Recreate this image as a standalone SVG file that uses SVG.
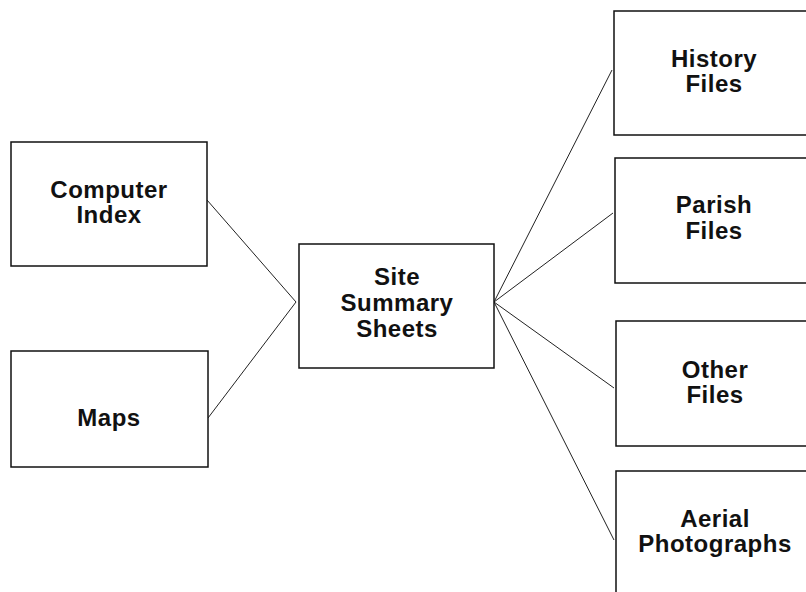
<svg xmlns="http://www.w3.org/2000/svg" width="806" height="592" viewBox="0 0 806 592">
<style>
.box{fill:#fff;stroke:#111;stroke-width:1.5}
.lbl{font-family:"Liberation Sans",Arial,sans-serif;font-weight:bold;font-size:24px;letter-spacing:0.5px;fill:#111;text-anchor:middle}
.con line{stroke:#222;stroke-width:1}
</style>
<rect width="806" height="592" fill="#fff"/>
<g class="con">
<line x1="207" y1="200" x2="296" y2="302"/>
<line x1="208" y1="418" x2="296" y2="302"/>
<line x1="494" y1="302" x2="612" y2="70"/>
<line x1="494" y1="302" x2="613" y2="213"/>
<line x1="494" y1="302" x2="614" y2="388"/>
<line x1="494" y1="302" x2="614" y2="540"/>
</g>
<g id="computer-index"><rect class="box" x="11" y="142" width="196" height="124"/><text class="lbl" x="109" y="198">Computer</text><text class="lbl" x="109" y="223">Index</text></g>
<g id="maps"><rect class="box" x="11" y="351" width="197" height="116"/><text class="lbl" x="109" y="426">Maps</text></g>
<g id="site-summary-sheets"><rect class="box" x="299" y="244" width="195" height="124"/><text class="lbl" x="397" y="285">Site</text><text class="lbl" x="397" y="311">Summary</text><text class="lbl" x="397" y="337">Sheets</text></g>
<g id="history-files"><rect class="box" x="614" y="11" width="220" height="124"/><text class="lbl" x="714" y="67">History</text><text class="lbl" x="714" y="92">Files</text></g>
<g id="parish-files"><rect class="box" x="615" y="158" width="220" height="125"/><text class="lbl" x="714" y="213">Parish</text><text class="lbl" x="714" y="239">Files</text></g>
<g id="other-files"><rect class="box" x="616" y="321" width="220" height="125"/><text class="lbl" x="715" y="378">Other</text><text class="lbl" x="715" y="403">Files</text></g>
<g id="aerial-photographs"><rect class="box" x="616" y="471" width="220" height="140"/><text class="lbl" x="715" y="527">Aerial</text><text class="lbl" x="715" y="552">Photographs</text></g>
</svg>
